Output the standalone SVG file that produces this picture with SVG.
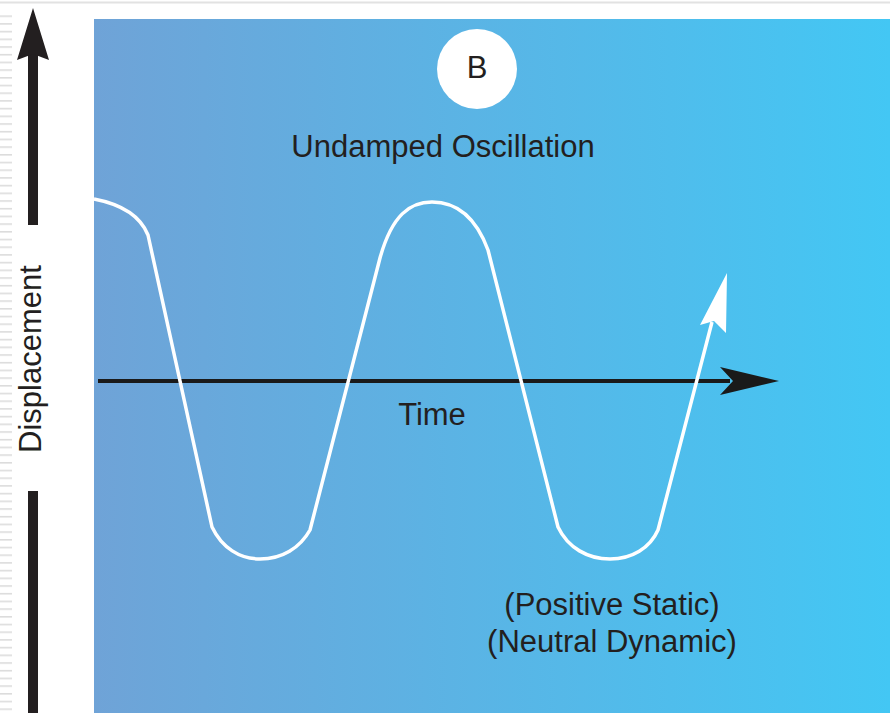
<svg xmlns="http://www.w3.org/2000/svg" width="890" height="713" viewBox="0 0 890 713">
<defs>
<linearGradient id="bg" x1="0" y1="0" x2="1" y2="0">
<stop offset="0" stop-color="#6fa3d7"/>
<stop offset="1" stop-color="#43c7f4"/>
</linearGradient>
<pattern id="stripes" x="0" y="0" width="12" height="7.7" patternUnits="userSpaceOnUse">
<rect x="0" y="0" width="12" height="1.6" fill="#dcdcdc"/>
</pattern>
<style>
.t{font-family:"Liberation Sans",Arial,sans-serif;fill:#231f20;font-size:31px}
.wave{fill:none;stroke:#ffffff;stroke-width:3.5;stroke-linejoin:round}
</style>
</defs>
<rect width="890" height="713" fill="#ffffff"/>
<rect x="0" y="1.5" width="890" height="2" fill="#e2e2e2"/>
<rect x="0" y="14" width="12" height="699" fill="url(#stripes)"/>
<rect x="94" y="19" width="796" height="694" fill="url(#bg)"/>
<g id="y-axis">
<rect x="28" y="52" width="10" height="173" fill="#231f20"/>
<rect x="28" y="491" width="10" height="222" fill="#231f20"/>
<polygon points="33,8 49,60 33,54 17,60" fill="#231f20"/>
<text class="t" transform="translate(41,359) rotate(-90)" text-anchor="middle">Displacement</text>
</g>
<g id="badge">
<circle cx="477" cy="69" r="40" fill="#ffffff"/>
<text class="t" x="477" y="78" text-anchor="middle" font-size="25">B</text>
</g>
<g id="title">
<text class="t" x="443" y="157" text-anchor="middle">Undamped Oscillation</text>
</g>
<g id="connectors">
<line x1="98" y1="381" x2="730" y2="381" stroke="#1a1a1a" stroke-width="4"/>
<polygon points="779,381 720,367 733,381 720,395" fill="#1a1a1a"/>
<path class="wave" d="M94,199 C120,204 140,215 148,235 L212,527 C222,548 240,559 260,559 C282,559 300,548 310,530 L380,258 C392,215 410,202 432,202 C455,202 475,215 488,250 L558,527 C568,548 588,559 610,559 C632,559 650,548 658,530 L712,322"/>
<polygon points="727,273 726,333 714,321 700,325" fill="#ffffff"/>
</g>
<g id="labels">
<text class="t" x="432" y="425" text-anchor="middle" font-size="30">Time</text>
<text class="t" x="612" y="615" text-anchor="middle">(Positive Static)</text>
<text class="t" x="612" y="652" text-anchor="middle">(Neutral Dynamic)</text>
</g>
</svg>
